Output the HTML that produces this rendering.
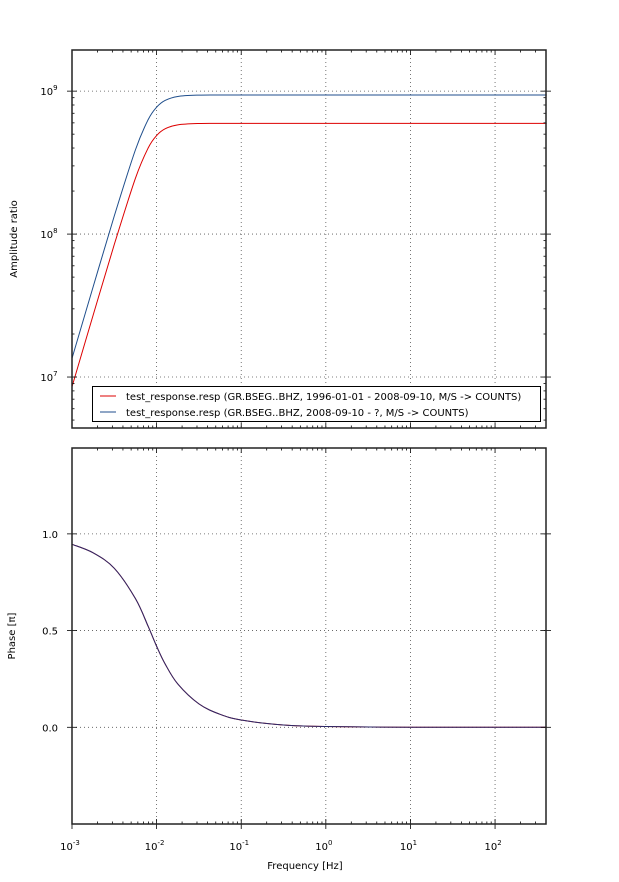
<!DOCTYPE html>
<html><head><meta charset="utf-8"><style>
body{margin:0;background:#fff;font-family:"Liberation Sans",sans-serif}
svg text{font-family:"DejaVu Sans","Liberation Sans",sans-serif;font-size:10px;fill:#000}
</style></head><body>
<svg id="c" width="619" height="877" xmlns="http://www.w3.org/2000/svg"></svg>
<script>
const logFreq=[-3,-2.75,-2.5,-2.25,-2.1,-2,-1.9,-1.75,-1.5,-1.25,-1,-0.5,0,1,2,2.61];
const ampBlue=[1.35e7,4.28e7,1.34e8,3.89e8,6.32e8,7.72e8,8.61e8,9.18e8,9.38e8,9.4e8,9.4e8,9.4e8,9.4e8,9.4e8,9.4e8,9.4e8];
const ampRed=[8.55e6,2.71e7,8.47e7,2.46e8,4.0e8,4.89e8,5.45e8,5.81e8,5.94e8,5.95e8,5.95e8,5.95e8,5.95e8,5.95e8,5.95e8,5.95e8];
const phase=[0.946,0.902,0.822,0.665,0.522,0.419,0.328,0.224,0.121,0.067,0.0375,0.0119,0.0038,0.0004,0.0,0.0];
const xTickExp=[-3,-2,-1,0,1,2];
const ampTickExp=[7,8,9];
const phaseTicks=[0,0.5,1.0];
const phaseTickLabels=["0.0","0.5","1.0"];
const legendLabels=["test_response.resp (GR.BSEG..BHZ, 1996-01-01 - 2008-09-10, M/S -> COUNTS)","test_response.resp (GR.BSEG..BHZ, 2008-09-10 - ?, M/S -> COUNTS)"];

const svg=document.getElementById('c');const NS="http://www.w3.org/2000/svg";
const L=72,R=546,T1=50,B1=428,T2=448,B2=824;
const xLmin=-3,xLmax=Math.log10(400);
const X=lf=>L+(lf-xLmin)/(xLmax-xLmin)*(R-L);
const aMin=Math.log10(4.4e6),aMax=Math.log10(1.94e9);
const YA=v=>B1-(Math.log10(v)-aMin)/(aMax-aMin)*(B1-T1);
const pMin=-0.5,pMax=1.444;
const YP=v=>B2-(v-pMin)/(pMax-pMin)*(B2-T2);
function el(t,a,p){const e=document.createElementNS(NS,t);for(const k in a)e.setAttribute(k,a[k]);(p||svg).appendChild(e);return e;}
function smooth(pts){let d=`M${pts[0][0]},${pts[0][1]}`;for(let i=0;i<pts.length-1;i++){const p0=pts[i-1]||pts[i],p1=pts[i],p2=pts[i+1],p3=pts[i+2]||p2;
d+=` C${p1[0]+(p2[0]-p0[0])/6},${p1[1]+(p2[1]-p0[1])/6} ${p2[0]-(p3[0]-p1[0])/6},${p2[1]-(p3[1]-p1[1])/6} ${p2[0]},${p2[1]}`;}return d;}
// grids
xTickExp.forEach(e=>{[[T1,B1],[T2,B2]].forEach(([t,b])=>{const g=el('line',{x1:X(e),x2:X(e),y1:t,y2:b,stroke:'#555','stroke-dasharray':'1,3','stroke-width':0.8});});});
ampTickExp.forEach(e=>{const g=el('line',{x1:L,x2:R,y1:YA(Math.pow(10,e)),y2:YA(Math.pow(10,e)),stroke:'#555','stroke-dasharray':'1,3','stroke-width':0.8});});
phaseTicks.forEach(v=>{const g=el('line',{x1:L,x2:R,y1:YP(v),y2:YP(v),stroke:'#555','stroke-dasharray':'1,3','stroke-width':0.8});});
// curves
const cr=el('path',{d:smooth(logFreq.map((f,i)=>[X(f),YA(ampRed[i])])),fill:'none',stroke:'#d00','stroke-width':1});

const cb=el('path',{d:smooth(logFreq.map((f,i)=>[X(f),YA(ampBlue[i])])),fill:'none',stroke:'#1f4e8c','stroke-width':1});

const pr=el('path',{d:smooth(logFreq.map((f,i)=>[X(f),YP(phase[i])])),fill:'none',stroke:'#c00','stroke-width':1});

const pb=el('path',{d:smooth(logFreq.map((f,i)=>[X(f),YP(phase[i])])),fill:'none',stroke:'#2a2a6a','stroke-width':1});

// ticks
function tick(x1,y1,x2,y2){const t=el('line',{x1,y1,x2,y2,stroke:'#000','stroke-width':0.8});}
for(let e=-3;e<=2;e++){for(let m=1;m<10;m++){const lf=e+Math.log10(m);if(lf>xLmax)break;const x=X(lf);const len=m==1?5:2.5;
[[T1,B1],[T2,B2]].forEach(([t,b])=>{tick(x,t,x,t+len);tick(x,b,x,b-len);});
if(m==1){tick(x,B2,x,B2+5);}}}
for(let e=6;e<=9;e++){for(let m=1;m<10;m++){const v=m*Math.pow(10,e);const lv=Math.log10(v);if(lv<aMin||lv>aMax)continue;const y=YA(v);const len=m==1?5:2.5;tick(L,y,L+len,y);tick(R,y,R-len,y);if(m==1){tick(L-5,y,L,y);tick(R,y,R+5,y);}}}
phaseTicks.forEach(v=>{const y=YP(v);tick(L-5,y,L+5,y);tick(R-5,y,R+5,y);});
// frames
[[T1,B1],[T2,B2]].forEach(([t,b],i)=>{const r=el('rect',{x:L,y:t,width:R-L,height:b-t,fill:'none',stroke:'#222','stroke-width':1.5});});
// labels
xTickExp.forEach(e=>{const t=el('text',{x:X(e)-2,y:850,'text-anchor':'middle'});
t.innerHTML=`10<tspan dy="-5" font-size="7">${e}</tspan>`;});
ampTickExp.forEach(e=>{const t=el('text',{x:L-23,y:YA(Math.pow(10,e))+4,'text-anchor':'middle'});
t.innerHTML=`10<tspan dy="-5" font-size="7">${e}</tspan>`;});
phaseTicks.forEach((v,i)=>{const t=el('text',{x:L-14,y:YP(v)+4,'text-anchor':'end'});t.textContent=phaseTickLabels[i];});
let t=el('text',{x:305,y:869,'text-anchor':'middle'});t.textContent='Frequency [Hz]';
t=el('text',{x:17,y:239,'text-anchor':'middle',transform:'rotate(-90 17 239)'});t.textContent='Amplitude ratio';
t=el('text',{x:15,y:636,'text-anchor':'middle',transform:'rotate(-90 15 636)'});t.textContent='Phase [π]';
// legend
const lg=el('g',{});
el('rect',{x:92.5,y:386.5,width:448,height:35,fill:'#fff',stroke:'#000','stroke-width':1},lg);
['#d00','#1f4e8c'].forEach((c,i)=>{const y=396+i*16;const ln=el('line',{x1:100,x2:116,y1:y,y2:y,stroke:c,'stroke-width':1},lg);
const tx=el('text',{x:126,y:y+4},lg);tx.textContent=legendLabels[i];});
</script></body></html>
